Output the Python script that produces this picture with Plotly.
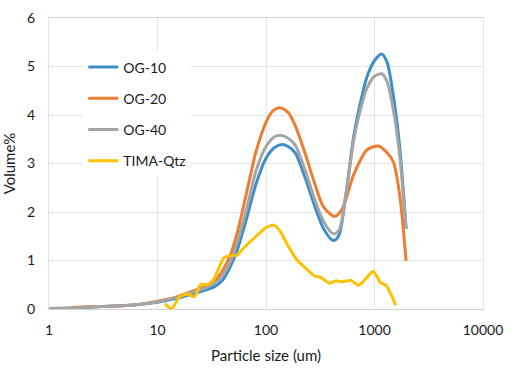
import plotly.graph_objects as go

# OG-10 (blue)
og10_x = [1, 1.6, 2, 3, 5, 7, 10, 15, 20, 25, 33, 40, 47, 54, 66, 81, 100, 120, 140, 160, 186, 230, 282, 340, 418, 470, 540, 646, 750, 850, 1000, 1164, 1300, 1480, 1700, 1955]
og10_y = [0.01, 0.02, 0.03, 0.05, 0.07, 0.10, 0.14, 0.22, 0.30, 0.36, 0.45, 0.60, 0.88, 1.20, 1.85, 2.58, 3.11, 3.33, 3.39, 3.35, 3.22, 2.70, 2.11, 1.65, 1.41, 1.52, 2.30, 3.58, 4.30, 4.78, 5.12, 5.26, 5.10, 4.45, 3.38, 1.65]

# OG-20 (orange)
og20_x = [1.6, 2, 3, 5, 7, 10, 15, 20, 25, 33, 40, 47, 54, 66, 81, 100, 115, 134, 160, 186, 230, 282, 340, 430, 500, 646, 850, 1000, 1087, 1200, 1480, 1700, 1955]
og20_y = [0.03, 0.04, 0.05, 0.07, 0.10, 0.16, 0.25, 0.35, 0.43, 0.55, 0.80, 1.12, 1.55, 2.38, 3.25, 3.85, 4.08, 4.15, 4.05, 3.78, 3.20, 2.58, 2.10, 1.91, 2.05, 2.78, 3.28, 3.35, 3.36, 3.30, 3.05, 2.38, 0.99]

# OG-40 (gray)
og40_x = [1, 1.6, 2, 3, 5, 7, 10, 15, 20, 25, 33, 40, 47, 54, 66, 81, 100, 120, 137, 160, 186, 230, 282, 340, 418, 470, 540, 646, 750, 850, 1000, 1164, 1300, 1480, 1700, 1955]
og40_y = [0.01, 0.02, 0.03, 0.05, 0.07, 0.10, 0.15, 0.24, 0.33, 0.40, 0.52, 0.70, 0.98, 1.35, 2.05, 2.85, 3.35, 3.55, 3.58, 3.52, 3.38, 2.85, 2.25, 1.80, 1.55, 1.62, 2.30, 3.50, 4.15, 4.55, 4.80, 4.85, 4.70, 4.15, 3.20, 1.65]

# TIMA-Qtz (yellow)
tima_x = [11.7, 13.5, 15.9, 19, 21.9, 25, 29, 33, 40.7, 46.9, 53.7, 65, 81, 100, 118, 135, 160, 193, 230, 282, 320, 385, 440, 492, 605, 718, 850, 966, 1050, 1125, 1290, 1420, 1568]
tima_y = [0.11, 0.00, 0.25, 0.31, 0.25, 0.51, 0.50, 0.61, 1.05, 1.10, 1.11, 1.30, 1.50, 1.68, 1.73, 1.60, 1.30, 1.01, 0.85, 0.68, 0.65, 0.53, 0.58, 0.56, 0.59, 0.49, 0.65, 0.78, 0.68, 0.55, 0.48, 0.30, 0.08]

series = [
    ("OG-10", og10_x, og10_y, "#3C8DC8"),
    ("OG-20", og20_x, og20_y, "#ED7D31"),
    ("OG-40", og40_x, og40_y, "#A5A5A5"),
    ("TIMA-Qtz", tima_x, tima_y, "#FFC000"),
]

x_ticks = [1, 10, 100, 1000, 10000]
x_ticktext = ["1", "10", "100", "1000", "10000"]
y_ticks = [0, 1, 2, 3, 4, 5, 6]

FONT = "Lato"
GRID = "#E3E3E3"

fig = go.Figure()
for i, (name, xs, ys, col) in enumerate(series):
    fig.add_trace(go.Scatter(
        x=xs, y=ys, name=name, mode="lines",
        line=dict(color=col, width=3, shape="spline", smoothing=0.8 if name != "TIMA-Qtz" else 0.5),
        legendgroup=f"g{i}",
    ))

fig.update_layout(
    width=512, height=371,
    margin=dict(l=48, r=20, t=9, b=62),
    paper_bgcolor="white", plot_bgcolor="white",
    font=dict(family=FONT, size=14, color="#1a1a1a"),
    showlegend=True,
    legend=dict(
        x=0.079, y=0.885, xanchor="left", yanchor="top",
        bgcolor="white", borderwidth=0,
        font=dict(family=FONT, size=14, color="#1a1a1a"),
        tracegroupgap=10,
    ),
    xaxis=dict(
        type="log", range=[0, 4],
        tickvals=x_ticks, ticktext=x_ticktext,
        showgrid=True, gridcolor=GRID, gridwidth=1,
        showline=True, linecolor="#D0D0D0", linewidth=1, mirror=True,
        zeroline=False, ticks="", ticklabelstandoff=8, ticklabeloverflow="allow",
        title=dict(text="Particle size (um)", font=dict(size=15), standoff=13),
    ),
    yaxis=dict(
        range=[0, 6], tickvals=y_ticks,
        showgrid=True, gridcolor=GRID, gridwidth=1,
        showline=True, linecolor=GRID, linewidth=1, mirror=True,
        zeroline=False, ticks="", ticklabelstandoff=10, ticklabeloverflow="allow",
        title=dict(text="Volume%", font=dict(size=15), standoff=8),
    ),
)

fig.write_html("out.html", config={"displayModeBar": False},
               post_script="document.body.style.margin='0';")
